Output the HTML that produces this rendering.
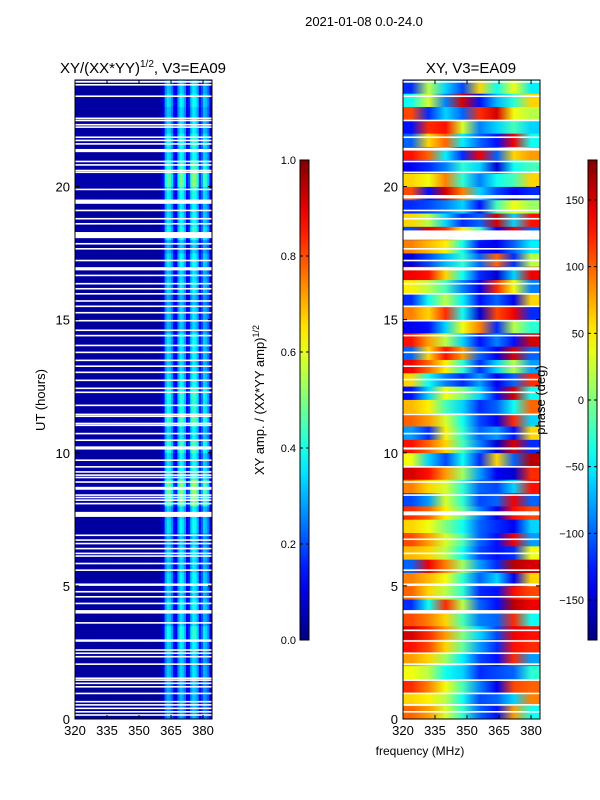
<!DOCTYPE html>
<html><head><meta charset="utf-8">
<style>
html,body{margin:0;padding:0;background:#fff;}
svg{display:block;font-family:"Liberation Sans","DejaVu Sans",sans-serif;}
</style></head>
<body>
<svg id="fig" width="600" height="800" viewBox="0 0 600 800">
<text x="364" y="26" font-size="13" text-anchor="middle">2021-01-08 0.0-24.0</text>
<text x="143" y="73" font-size="15" text-anchor="middle">XY/(XX*YY)<tspan font-size="10" dy="-6">1/2</tspan><tspan dy="6">, V3=EA09</tspan></text>
<text x="471" y="73" font-size="15" text-anchor="middle">XY, V3=EA09</text>
<text transform="translate(45,400) rotate(-90)" font-size="13" text-anchor="middle">UT (hours)</text>
<text x="420" y="755" font-size="12" text-anchor="middle">frequency (MHz)</text>
<text transform="translate(264,400) rotate(-90)" font-size="13" text-anchor="middle">XY amp. / (XX*YY amp)<tspan font-size="9" dy="-5">1/2</tspan></text>
<g id="left"></g>
<g id="right"></g>
<g id="cb"></g>
<text transform="translate(545,400) rotate(-90)" font-size="13" text-anchor="middle">phase (deg)</text>
</svg>
<script>
// ---------- data ----------
const freqMin = 320, freqMax = 384.2, tMin = 0, tMax = 24;
const xTicks = [320, 335, 350, 365, 380];
const yTicks = [0, 5, 10, 15, 20];
// amplitude: per-MHz channel profile (320..383)
const ampChannelProfile = [
0.03,0.03,0.03,0.03,0.03,0.03,0.03,0.03,0.03,0.03,0.03,0.03,0.03,0.03,0.03,0.03,
0.03,0.03,0.03,0.03,0.03,0.03,0.03,0.03,0.03,0.03,0.03,0.03,0.03,0.03,0.03,0.03,
0.03,0.03,0.03,0.03,0.03,0.03,0.03,0.03,0.05,0.10,0.26,0.32,0.30,0.24,0.12,0.10,
0.26,0.34,0.32,0.26,0.10,0.14,0.30,0.36,0.34,0.28,0.12,0.20,0.30,0.28,0.22,0.07];
// amplitude: per-half-hour scale (0h..24h)
const ampRowScale = [0.85,0.9,0.9,1.0,0.95,1.05,1.2,1.0,1.1,1.0,1.1,1.0,1.05,0.95,1.1,1.05,
1.45,1.5,1.2,1.1,1.3,1.05,1.35,1.2,1.25,1.1,1.0,1.05,1.1,0.95,1.0,0.9,1.05,1.0,1.1,0.95,1.2,1.1,
1.05,1.15,1.45,1.3,1.1,1.2,1.05,1.0,1.1,1.0];
// flagged (white) time ranges, hours
const ampFlags = [[23.9,23.97],[23.79,23.85],[23.36,23.42],[22.53,22.59],[22.45,22.51],[22.29,22.35],[22.2,22.26],
[21.82,21.88],[21.7,21.76],[21.57,21.63],[21.29,21.41],[20.91,20.97],[20.78,20.84],[20.57,20.63],[20.51,20.56],
[19.86,19.92],[19.35,19.51],[19.07,19.13],[18.76,18.82],[18.57,18.63],[18.06,18.29],[17.82,17.88],[17.63,17.69],
[17.19,17.25],[16.85,16.97],[16.63,16.69],[16.32,16.38],[16.13,16.19],[15.94,16.0],[15.67,15.73],[15.47,15.53],
[15.23,15.29],[14.93,14.99],[14.57,14.63],[14.37,14.43],[14.0,14.06],[13.74,13.8],[13.44,13.5],[13.22,13.28],
[12.99,13.05],[12.69,12.75],[12.39,12.45],[12.24,12.3],[11.75,11.81],[11.41,11.47],[11.34,11.4],[11.07,11.13],
[11.0,11.06],[10.69,10.75],[10.44,10.5],[10.12,10.24],[9.69,9.75],[9.44,9.5],[9.25,9.31],[9.13,9.19],[9.04,9.1],
[8.87,8.93],[8.61,8.72],[8.38,8.44],[8.29,8.35],[8.19,8.25],[8.06,8.12],[7.59,7.78],[6.87,6.93],[6.69,6.75],
[6.56,6.62],[6.37,6.43],[6.19,6.25],[6.09,6.15],[5.81,5.87],[5.56,5.62],[5.0,5.09],[4.75,4.81],[4.56,4.62],
[4.31,4.37],[3.96,4.09],[3.58,3.64],[2.9,2.99],[2.56,2.62],[2.44,2.5],[2.31,2.37],[2.03,2.09],[1.5,1.56],[1.43,1.49],
[1.31,1.37],[1.18,1.24],[0.93,0.99],[0.62,0.68],[0.5,0.56],[0.37,0.43],[0.24,0.3],[0.12,0.18]];
// phase (deg): half-hour rows x 8 MHz channel groups (centres 324,332,...,380)
const phaseRows = [
[100,80,30,-30,-100,-130,80,-40],[60,50,20,-40,-110,-100,-60,90],[120,90,40,-20,-90,-140,110,100],
[40,20,-40,-60,-120,-110,-100,-30],[80,60,10,-50,-110,-130,120,-80],[130,110,60,-10,-80,-120,130,120],
[150,120,80,0,-60,-110,140,130],[110,90,60,-20,-90,-100,120,-40],[-120,-40,120,20,-100,-130,160,140],
[100,60,20,-30,-120,-130,130,110],[90,70,40,-30,-100,-60,-140,60],[-100,140,90,10,-80,-120,160,150],
[70,60,20,-40,-110,-130,-120,40],[110,80,30,-20,-100,-130,140,-80],[60,40,0,-40,-100,-120,-140,-60],
[120,100,50,-10,-90,-140,130,110],[-110,-80,30,-30,-110,-100,140,-100],[90,60,30,-30,-100,-110,-60,130],
[150,130,80,10,-80,-140,-150,120],[40,-60,-110,-40,-120,60,-100,160],[130,100,60,-20,-90,-150,150,-120],
[-80,-120,50,-30,-100,-80,-130,60],[100,80,30,-40,-110,-140,120,-60],[70,50,-20,-60,-120,-100,-40,100],
[-130,-60,40,0,-60,-130,150,-40],[60,-40,-90,-120,-80,-140,-100,120],[140,100,50,-30,-120,-60,20,-80],
[-100,60,130,80,-100,-140,150,-100],[130,80,20,-60,-130,-90,-130,150],[-140,-130,-60,40,90,-120,20,-30],
[90,60,120,-40,-150,110,140,-120],[-120,-40,20,-50,-130,-100,-140,60],[50,20,-20,-90,-140,120,40,-90],
[140,130,60,-40,-120,-150,-60,140],[-150,-110,-70,-30,-100,100,-120,20],[90,70,50,-40,-130,-140,-100,-50],
[-110,150,120,50,-20,-140,140,-100],[60,20,-60,-120,-100,150,-60,130],[-120,-110,-90,-60,-130,-20,40,10],
[110,-130,150,90,-60,-110,-140,-120],[60,40,90,-30,-90,-40,-20,60],[-140,-120,-90,-30,-60,-150,-40,-20],
[130,100,-50,-120,140,-100,60,80],[-100,60,100,-50,-100,-130,140,-40],[-130,120,130,30,-90,-60,-20,-60],
[110,-120,-60,-100,120,150,40,20],[-40,30,-90,150,-130,-70,-30,60],[-120,20,-60,-110,60,-40,40,-50]];
const phaseFlags = [[23.9,23.97],[23.36,23.42],[22.45,22.51],[21.82,21.88],[21.35,21.45],[20.91,20.97],[20.51,20.56],
[19.55,19.68],[19.07,19.13],[18.76,18.82],[18.0,18.35],[17.63,17.69],[17.19,17.25],[16.85,16.97],[16.32,16.38],
[15.94,16.0],[15.47,15.53],[14.93,14.99],[14.37,14.43],[13.74,13.8],[13.22,13.28],[12.72,12.78],[12.24,12.3],
[11.41,11.47],[10.69,10.75],[10.12,10.2],[9.44,9.5],[8.87,8.93],[8.38,8.44],[7.65,7.8],[6.72,6.78],[6.19,6.25],
[5.56,5.62],[5.0,5.09],[4.56,4.62],[3.96,4.09],[3.3,3.36],[2.9,2.96],[2.44,2.5],[2.03,2.09],[1.43,1.49],[0.93,0.99],[0.5,0.56],[0.24,0.3]];
const ampTicks = [0.0, 0.2, 0.4, 0.6, 0.8, 1.0];
const phaseTicks = [-150, -100, -50, 0, 50, 100, 150];

// ---------- helpers ----------
const NS = 'http://www.w3.org/2000/svg';
function mk(tag, attrs, parent){const e=document.createElementNS(NS,tag);for(const k in attrs)e.setAttribute(k,attrs[k]);parent.appendChild(e);return e;}
function jet(v){v=Math.max(0,Math.min(1,v));
  const c=x=>Math.round(255*Math.max(0,Math.min(1,x)));
  const r=c(Math.min(4*v-1.5,-4*v+4.5)),g=c(Math.min(4*v-0.5,-4*v+3.5)),b=c(Math.min(4*v+0.5,-4*v+2.5));
  return `rgb(${r},${g},${b})`;}
const plotTop=80, plotBot=719, plotH=plotBot-plotTop, plotW=137;
function panel(gid, x0){
  const g=document.getElementById(gid);
  return {g, x0, X:f=>x0+(f-freqMin)/(freqMax-freqMin)*plotW, Y:t=>plotBot-(t-tMin)/(tMax-tMin)*plotH};
}
function axes(P, flags){
  const g=P.g;
  flags.forEach(fl=>{
    const r=mk('rect',{x:P.x0,y:P.Y(fl[1]),width:plotW,height:Math.max(1.5,P.Y(fl[0])-P.Y(fl[1])),fill:'#fff'},g);
    
    
  });
  const fr=mk('rect',{x:P.x0,y:plotTop,width:plotW,height:plotH,fill:'none',stroke:'#000','stroke-width':1},g);
  
  
  xTicks.forEach(v=>{const x=P.X(v);
    mk('line',{x1:x,x2:x,y1:plotBot,y2:plotBot-4,stroke:'#000'},g);
    mk('line',{x1:x,x2:x,y1:plotTop,y2:plotTop+4,stroke:'#000'},g);
    const t=mk('text',{x:x,y:plotBot+16,'font-size':13,'text-anchor':'middle'},g);t.textContent=v;
    
    });
  yTicks.forEach(v=>{const y=P.Y(v);
    mk('line',{x1:P.x0,x2:P.x0+4,y1:y,y2:y,stroke:'#000'},g);
    mk('line',{x1:P.x0+plotW,x2:P.x0+plotW-4,y1:y,y2:y,stroke:'#000'},g);
    const t=mk('text',{x:P.x0-5,y:y+5,'font-size':13,'text-anchor':'end'},g);t.textContent=v;
    
    });
}
// ---------- left amplitude heatmap ----------
const L=panel('left',75);
ampRowScale.forEach((s,i)=>{
  const t0=i*0.5,t1=t0+0.5;
  ampChannelProfile.forEach((p,j)=>{
    const f0=freqMin+j, f1=Math.min(freqMin+j+1,freqMax);
    const r=mk('rect',{x:L.X(f0),y:L.Y(t1),width:L.X(f1)-L.X(f0)+0.4,height:L.Y(t0)-L.Y(t1)+0.4,fill:jet(p*s)},L.g);
    
    
  });
});
axes(L, ampFlags);
// ---------- right phase heatmap (row gradients through channel-group values) ----------
const R=panel('right',403);
const rdefs=mk('defs',{},R.g);
phaseRows.forEach((row,i)=>{
  const t0=i*0.5,t1=t0+0.5;
  const gid='pg'+i;
  const grad=mk('linearGradient',{id:gid,x1:0,y1:0,x2:1,y2:0},rdefs);
  row.forEach((ph,j)=>{
    const fc=freqMin+j*8+4;
    mk('stop',{offset:(fc-freqMin)/(freqMax-freqMin),'stop-color':jet((ph+180)/360)},grad);
  });
  const r=mk('rect',{x:R.X(freqMin),y:R.Y(t1),width:plotW,height:R.Y(t0)-R.Y(t1)+0.4,fill:'url(#'+gid+')'},R.g);
  
  
});
axes(R, phaseFlags);
// ---------- colorbars ----------
const cb=document.getElementById('cb');
const defs=mk('defs',{},cb);
const lg=mk('linearGradient',{id:'jetg',x1:0,y1:1,x2:0,y2:0},defs);
for(let k=0;k<=20;k++){mk('stop',{offset:k/20,'stop-color':jet(k/20)},lg);}
function colorbar(x, ticks, lo, hi, fmt, name){
  const top=160,bot=640,w=9;
  const r=mk('rect',{x:x,y:top,width:w,height:bot-top,fill:'url(#jetg)',stroke:'#000','stroke-width':1},cb);
  
  
  ticks.forEach(v=>{const y=bot-(v-lo)/(hi-lo)*(bot-top);
    mk('line',{x1:x,x2:x+3,y1:y,y2:y,stroke:'#000'},cb);
    mk('line',{x1:x+w,x2:x+w-3,y1:y,y2:y,stroke:'#000'},cb);
    const t=mk('text',{x:x-4,y:y+4,'font-size':11,'text-anchor':'end'},cb);t.textContent=fmt(v);
    
    });
}
colorbar(300, ampTicks, 0, 1, v=>v.toFixed(1), 'amp-colorbar');
colorbar(588, phaseTicks, -180, 180, v=>v<0?'\u2212'+(-v):String(v), 'phase-colorbar');
</script>
</body></html>
